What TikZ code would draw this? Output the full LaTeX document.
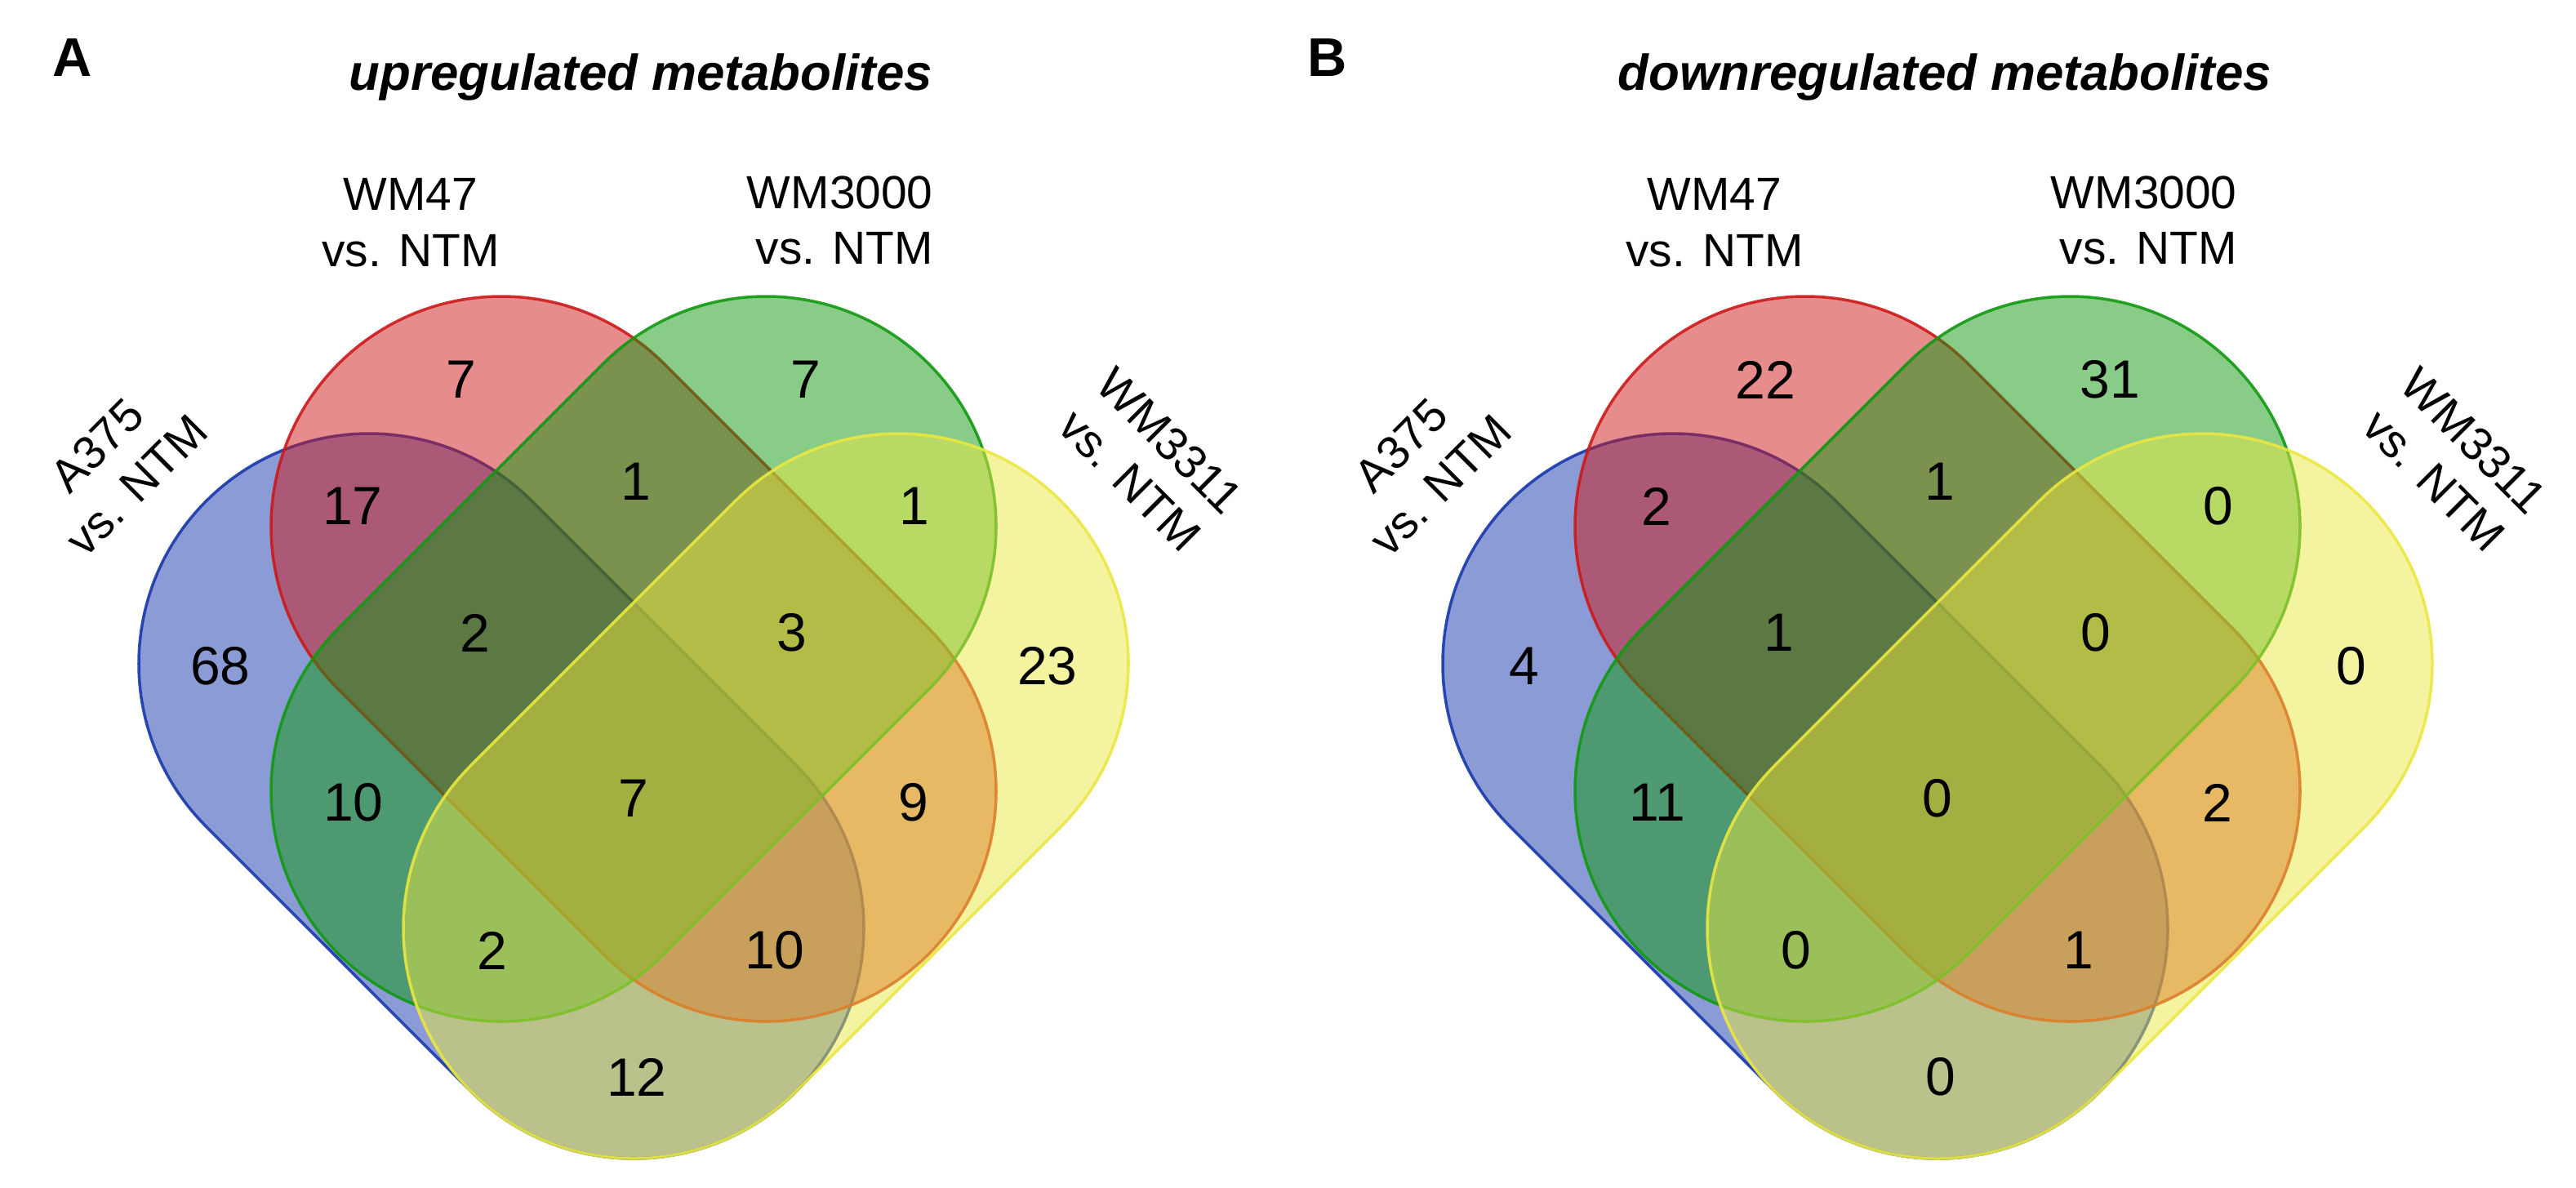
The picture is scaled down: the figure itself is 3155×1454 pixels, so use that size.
\documentclass[tikz,border=0pt]{standalone}
\usepackage{fontspec}
\setmainfont{Liberation Sans}

\definecolor{setblue}{RGB}{23,55,171}
\definecolor{setred}{RGB}{205,25,25}
\definecolor{setgreen}{RGB}{17,153,17}
\definecolor{setyellow}{RGB}{233,231,65}

\tikzset{
  venn/.style={fill=#1, fill opacity=0.5, draw=#1, draw opacity=0.9, line width=0.5pt},
  num/.style={font=\fontsize{9.4}{11}\selectfont, inner sep=0pt},
  setlabel/.style={font=\fontsize{8.1}{9.8}\selectfont, inner sep=0pt},
  paneltitle/.style={font=\fontsize{8.8}{10}\selectfont\bfseries\itshape, inner sep=0pt},
  panelletter/.style={font=\fontsize{9.5}{11}\selectfont\bfseries, inner sep=0pt}
}

\begin{document}
\begin{tikzpicture}[x=0.005cm,y=-0.005cm]
    \useasboundingbox (0,0) rectangle (3155,1454);

    % panel A
    \foreach \ax/\ay/\dx/\a/\c in {452/813/324/45/setblue, 614/645/324/45/setred,
                                    938/645/-324/135/setgreen, 1100/813/-324/135/setyellow}
        \filldraw[venn=\c] (\ax,\ay) ++(\a+90:282) arc[start angle=\a+90, delta angle=180, radius=282]
            -- ++(\dx,324) arc[start angle=\a-90, delta angle=180, radius=282] -- cycle;

    \node[panelletter] (letA) at (89,71) {A};
    \node[paneltitle, anchor=base] (titleA) at (785,110) {upregulated metabolites};
    \node[setlabel, align=center, anchor=north] (wm47A) at (503,217) {WM47\\vs. NTM};
    \node[setlabel, align=right, anchor=north east] (wm3000A) at (1144,214) {WM3000\\vs. NTM};
    \node[setlabel, align=center, rotate=45] (a375A) at (143,570) {A375\\vs. NTM};
    \node[setlabel, align=center, rotate=-45] (wm3311A) at (1408,564) {WM3311\\vs. NTM};

    \node[num] (rA) at (565,465) {7};
    \node[num] (gA) at (987,465) {7};
    \node[num] (brA) at (432,620) {17};
    \node[num] (rgA) at (779,590) {1};
    \node[num] (gyA) at (1120,620) {1};
    \node[num] (bA) at (270,816) {68};
    \node[num] (brgA) at (582,775) {2};
    \node[num] (rgyA) at (970,775) {3};
    \node[num] (yA) at (1283,816) {23};
    \node[num] (bgA) at (433,983) {10};
    \node[num] (allA) at (776,978) {7};
    \node[num] (ryA) at (1119,983) {9};
    \node[num] (bgyA) at (603,1164) {2};
    \node[num] (bryA) at (949,1164) {10};
    \node[num] (byA) at (780,1319) {12};

    % panel B
    \begin{scope}[xshift=1597*0.005cm]
    \foreach \ax/\ay/\dx/\a/\c in {452/813/324/45/setblue, 614/645/324/45/setred,
                                    938/645/-324/135/setgreen, 1100/813/-324/135/setyellow}
        \filldraw[venn=\c] (\ax,\ay) ++(\a+90:282) arc[start angle=\a+90, delta angle=180, radius=282]
            -- ++(\dx,324) arc[start angle=\a-90, delta angle=180, radius=282] -- cycle;

    \node[panelletter] (letB) at (29,71) {B};
    \node[paneltitle, anchor=base] (titleB) at (785,110) {downregulated metabolites};
    \node[setlabel, align=center, anchor=north] (wm47B) at (503,217) {WM47\\vs. NTM};
    \node[setlabel, align=right, anchor=north east] (wm3000B) at (1144,214) {WM3000\\vs. NTM};
    \node[setlabel, align=center, rotate=45] (a375B) at (143,570) {A375\\vs. NTM};
    \node[setlabel, align=center, rotate=-45] (wm3311B) at (1408,564) {WM3311\\vs. NTM};

    \node[num] (rB) at (565,465) {22};
    \node[num] (gB) at (987,465) {31};
    \node[num] (brB) at (432,620) {2};
    \node[num] (rgB) at (779,590) {1};
    \node[num] (gyB) at (1120,620) {0};
    \node[num] (bB) at (270,816) {4};
    \node[num] (brgB) at (582,775) {1};
    \node[num] (rgyB) at (970,775) {0};
    \node[num] (yB) at (1283,816) {0};
    \node[num] (bgB) at (433,983) {11};
    \node[num] (allB) at (776,978) {0};
    \node[num] (ryB) at (1119,983) {2};
    \node[num] (bgyB) at (603,1164) {0};
    \node[num] (bryB) at (949,1164) {1};
    \node[num] (byB) at (780,1319) {0};
    \end{scope}
\end{tikzpicture}
\end{document}
